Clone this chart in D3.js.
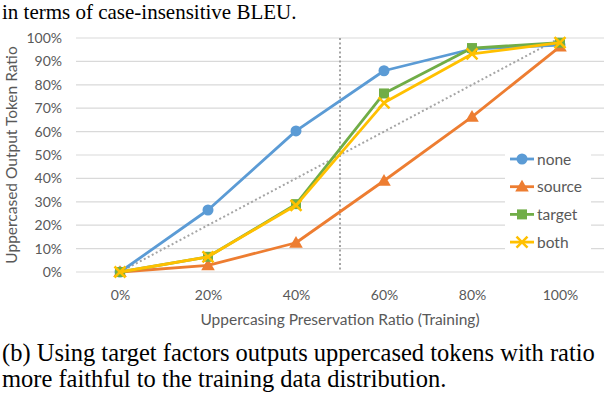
<!DOCTYPE html>
<html>
<head>
<meta charset="utf-8">
<style>
    body { margin: 0; background: #fff; }
    svg { display: block; }
    .caption { font-family: 'Liberation Serif', 'Times New Roman', serif; fill: #000; }
    .axis text { font-family: Lato, 'Open Sans', sans-serif; font-size: 14px; fill: #595959; }
    .axis-title { font-family: Lato, 'Open Sans', sans-serif; font-size: 15.5px; fill: #595959; }
    .legend text { font-family: Lato, 'Open Sans', sans-serif; font-size: 15.5px; fill: #595959; }
</style>
</head>
<body>
<svg width="606" height="398"></svg>
<script src="https://d3js.org/d3.v7.min.js"></script>
<script>
    // data
    const categories = ["0%", "20%", "40%", "60%", "80%", "100%"];
    const yTicks = [0, 10, 20, 30, 40, 50, 60, 70, 80, 90, 100];
    const noneVals = [0, 26.5, 60.3, 86, 95.3, 97];
    const sourceVals = [0, 2.8, 12.5, 39, 66.3, 96.3];
    const targetVals = [0, 6.5, 29, 76.3, 95.7, 98];
    const bothVals = [0, 6.5, 28.5, 72.3, 93.2, 98];
    const diagVals = [0, 20, 40, 60, 80, 100];
    const seriesNames = ["none", "source", "target", "both"];
    const seriesColors = ["#5B9BD5", "#ED7D31", "#70AD47", "#FFC000"];
    const seriesShapes = ["circle", "triangle", "square", "cross"];

    const series = [noneVals, sourceVals, targetVals, bothVals].map((v, i) => ({
        name: seriesNames[i], values: v, color: seriesColors[i], shape: seriesShapes[i]
    }));

    const svg = d3.select("svg");
    const margin = { left: 76, right: 2 };
    const W = 606;

    const x = d3.scalePoint()
        .domain(categories)
        .range([margin.left, W - margin.right])
        .padding(0.5);

    const y = d3.scaleLinear()
        .domain([0, 100])
        .range([272, 38]);

    // captions
    svg.append("text").attr("class", "caption").attr("x", 2).attr("y", 19)
        .style("font-size", "21px")
        .text("in terms of case-insensitive BLEU.");
    svg.append("text").attr("class", "caption").attr("x", 2).attr("y", 361)
        .style("font-size", "24.5px")
        .text("(b) Using target factors outputs uppercased tokens with ratio");
    svg.append("text").attr("class", "caption").attr("x", 2).attr("y", 387)
        .style("font-size", "24.5px")
        .text("more faithful to the training data distribution.");

    // gridlines
    svg.append("g")
        .selectAll("line")
        .data(yTicks)
        .join("line")
        .attr("x1", margin.left)
        .attr("x2", W - margin.right)
        .attr("y1", d => y(d))
        .attr("y2", d => y(d))
        .attr("stroke", "#D9D9D9")
        .attr("stroke-width", 1.2);

    // y axis
    svg.append("g")
        .attr("class", "axis")
        .attr("transform", `translate(${margin.left},0)`)
        .call(d3.axisLeft(y).tickValues(yTicks).tickSize(0).tickPadding(14).tickFormat(d => d + "%"))
        .call(g => g.select(".domain").remove());

    // x axis
    svg.append("g")
        .attr("class", "axis")
        .attr("transform", `translate(0,${y(0)})`)
        .call(d3.axisBottom(x).tickSize(0).tickPadding(18))
        .call(g => g.select(".domain").remove());

    svg.append("text")
        .attr("class", "axis-title")
        .attr("x", 340)
        .attr("y", 325)
        .attr("text-anchor", "middle")
        .text("Uppercasing Preservation Ratio (Training)");

    svg.append("text")
        .attr("class", "axis-title")
        .attr("transform", `translate(17,${(y(0) + y(100)) / 2}) rotate(-90)`)
        .attr("text-anchor", "middle")
        .text("Uppercased Output Token Ratio");

    // reference lines
    const xMid = (x("40%") + x("60%")) / 2;
    svg.append("line")
        .attr("x1", xMid).attr("x2", xMid)
        .attr("y1", y(100)).attr("y2", y(0))
        .attr("stroke", "#A5A5A5").attr("stroke-width", 2)
        .attr("stroke-dasharray", "2,2.5");

    const line = d3.line()
        .x((d, i) => x(categories[i]))
        .y(d => y(d));

    svg.append("path")
        .attr("d", line(diagVals))
        .attr("fill", "none")
        .attr("stroke", "#A5A5A5").attr("stroke-width", 2)
        .attr("stroke-dasharray", "2,2.5");

    function drawMarker(g, shape, color, cx, cy) {
        if (shape === "circle") {
            g.append("circle").attr("cx", cx).attr("cy", cy).attr("r", 5.5).attr("fill", color);
        } else if (shape === "triangle") {
            g.append("path").attr("d", d3.symbol(d3.symbolTriangle, 80)())
                .attr("transform", `translate(${cx},${cy + 1})`).attr("fill", color);
        } else if (shape === "square") {
            g.append("rect").attr("x", cx - 5).attr("y", cy - 5).attr("width", 10).attr("height", 10).attr("fill", color);
        } else {
            g.append("path").attr("d", `M${cx - 5.5},${cy - 5.5}L${cx + 5.5},${cy + 5.5}M${cx - 5.5},${cy + 5.5}L${cx + 5.5},${cy - 5.5}`)
                .attr("stroke", color).attr("stroke-width", 2.5).attr("fill", "none");
        }
    }

    series.forEach(s => {
        const g = svg.append("g");
        g.append("path")
            .attr("d", line(s.values))
            .attr("fill", "none")
            .attr("stroke", s.color)
            .attr("stroke-width", 2.8)
            .attr("stroke-linejoin", "round");
        s.values.forEach((v, i) => drawMarker(g, s.shape, s.color, x(categories[i]), y(v)));
    });

    // legend
    const legend = svg.append("g").attr("class", "legend");
    legend.append("rect")
        .attr("x", 505).attr("y", 146).attr("width", 86).attr("height", 110)
        .attr("fill", "#fff");
    series.forEach((s, i) => {
        const ly = 159 + i * 27.7;
        legend.append("line")
            .attr("x1", 510).attr("x2", 534).attr("y1", ly).attr("y2", ly)
            .attr("stroke", s.color).attr("stroke-width", 2.8);
        drawMarker(legend, s.shape, s.color, 522, ly);
        legend.append("text")
            .attr("x", 537).attr("y", ly + 5.5)
            .text(s.name);
    });
</script>
</body>
</html>
